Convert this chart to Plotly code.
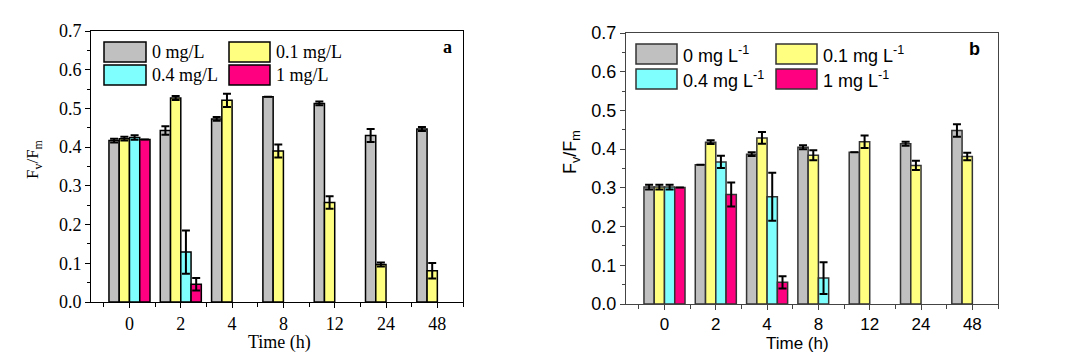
import plotly.graph_objects as go

# ---------------- data ----------------
categories = ["0", "2", "4", "8", "12", "24", "48"]
series_a_names = ["0 mg/L", "0.1 mg/L", "0.4 mg/L", "1 mg/L"]
series_b_names = ["0 mg L<sup>-1</sup>", "0.1 mg L<sup>-1</sup>", "0.4 mg L<sup>-1</sup>", "1 mg L<sup>-1</sup>"]
colors = ["#C0C0C0", "#FFFF80", "#80FFFF", "#FF0080"]

# panel a
a_0 = [0.417, 0.443, 0.473, 0.530, 0.513, 0.430, 0.447]
a_0_err = [0.005, 0.011, 0.005, None, 0.005, 0.017, 0.005]
a_01 = [0.422, 0.527, 0.521, 0.390, 0.257, 0.097, 0.081]
a_01_err = [0.005, 0.005, 0.017, 0.017, 0.016, 0.005, 0.020]
a_04 = [0.425, 0.129, None, None, None, None, None]
a_04_err = [0.006, 0.056, None, None, None, None, None]
a_1 = [0.420, 0.046, None, None, None, None, None]
a_1_err = [None, 0.016, None, None, None, None, None]

# panel b
b_0 = [0.302, 0.360, 0.387, 0.405, 0.392, 0.414, 0.448]
b_0_err = [0.006, None, 0.005, 0.005, None, 0.005, 0.016]
b_01 = [0.302, 0.418, 0.429, 0.384, 0.419, 0.358, 0.381]
b_01_err = [0.006, 0.005, 0.015, 0.013, 0.016, 0.012, 0.010]
b_04 = [0.302, 0.367, 0.277, 0.067, None, None, None]
b_04_err = [0.006, 0.016, 0.062, 0.041, None, None, None]
b_1 = [0.301, 0.283, 0.056, None, None, None, None]
b_1_err = [None, 0.031, 0.016, None, None, None, None]

# figure size (page body has an 8px margin, so the figure is 16px smaller
# than the window and every reference pixel is shifted by OFF)
OFF = 8
W, H = 1064, 344
xpos = list(range(len(categories)))

fig = go.Figure()

SERIF = "Liberation Serif, Times New Roman, serif"
SANS = "Liberation Sans, Arial, sans-serif"


def px(x):
    return (x - OFF) / W


def py(y):
    return 1 - (y - OFF) / H


def add_panel(vals, errs, names, xa, ya, edge):
    for i, (v, e) in enumerate(zip(vals, errs)):
        fig.add_trace(go.Bar(
            x=xpos, y=v, name=names[i], showlegend=False,
            marker=dict(color=colors[i], line=dict(color=edge, width=1.5)),
            error_y=dict(type="data", array=e, visible=True, color="black",
                         thickness=2, width=4),
            offsetgroup=str(i) + xa, xaxis=xa, yaxis=ya,
        ))


add_panel([a_0, a_01, a_04, a_1], [a_0_err, a_01_err, a_04_err, a_1_err],
          series_a_names, "x", "y", "black")
add_panel([b_0, b_01, b_04, b_1], [b_0_err, b_01_err, b_04_err, b_1_err],
          series_b_names, "x2", "y2", "#333333")

# pixel geometry of plot areas (window pixels)
A = dict(l=91, r=463, t=31, b=302)
B = dict(l=626, r=998, t=33, b=304)


def xaxis_def(g, font, lc, size):
    return dict(
        domain=[px(g["l"]), px(g["r"])], range=[-0.75, 6.5], automargin=False,
        tickvals=xpos, ticktext=categories, ticks="outside", ticklen=5,
        tickwidth=1, tickcolor=lc, showline=True, linecolor=lc, linewidth=1,
        mirror=True, showgrid=False, zeroline=False,
        tickfont=dict(family=font, size=size, color="black"),
        minor=dict(tickvals=[k - 0.5 for k in range(len(categories) + 1)],
                   ticks="outside", ticklen=4, tickcolor=lc, showgrid=False),
        fixedrange=True,
    )


def yaxis_def(g, font, lc, anchor, size):
    return dict(
        domain=[py(g["b"]), py(g["t"])], range=[0, 0.7], dtick=0.1,
        tick0=0, tickformat=".1f", ticks="outside", ticklen=5, tickwidth=1,
        tickcolor=lc, showline=True, linecolor=lc, linewidth=1, mirror=True,
        showgrid=False, zeroline=False, anchor=anchor, automargin=False,
        tickfont=dict(family=font, size=size, color="black"),
        minor=dict(dtick=0.05, ticks="outside", ticklen=3, tickcolor=lc, showgrid=False),
        fixedrange=True,
    )


fig.update_layout(
    template="none",
    width=W, height=H, margin=dict(l=0, r=0, t=0, b=0, pad=0, autoexpand=False),
    paper_bgcolor="white", plot_bgcolor="white",
    barmode="group", bargap=0.2, bargroupgap=0,
    showlegend=False,
    xaxis=dict(xaxis_def(A, SERIF, "black", 18), anchor="y"),
    yaxis=yaxis_def(A, SERIF, "black", "x", 18),
    xaxis2=dict(xaxis_def(B, SANS, "#444444", 17), anchor="y2"),
    yaxis2=yaxis_def(B, SANS, "#444444", "x2", 18),
)

shapes = []
annotations = []


def label(x, y, text, font, size, angle=0):
    annotations.append(dict(xref="paper", yref="paper", x=px(x), y=py(y), text=text,
                            showarrow=False, xanchor="center", yanchor="middle",
                            textangle=angle,
                            font=dict(family=font, size=size, color="black")))


def legend(names, font, size, boxes, edge):
    # boxes: list of (x0, x1, y0, y1, text_x) in window pixels
    for name, col, (x0, x1, y0, y1, tx) in zip(names, colors, boxes):
        shapes.append(dict(type="rect", xref="paper", yref="paper",
                           x0=px(x0), x1=px(x1), y0=py(y1), y1=py(y0),
                           fillcolor=col, line=dict(color=edge, width=1.5)))
        annotations.append(dict(xref="paper", yref="paper", x=px(tx),
                                y=py((y0 + y1) / 2), text=name, showarrow=False,
                                xanchor="left", yanchor="middle",
                                font=dict(family=font, size=size, color="black")))


legend(series_a_names, SERIF, 18,
       [(104, 146, 42, 62, 150), (229, 270, 42, 62, 274),
        (104, 146, 65, 85, 150), (229, 270, 65, 85, 274)], "black")
legend(series_b_names, SANS, 18,
       [(636, 677, 44, 64, 681), (776, 817, 44, 64, 821),
        (636, 677, 69, 89, 681), (776, 817, 69, 89, 821)], "#333333")

# panel letters
label(447, 47, "<b>a</b>", SERIF, 18)
label(974, 49, "<b>b</b>", SANS, 18)

# axis titles
label(34, 159, "F<sub>v</sub>/F<sub>m</sub>", SERIF, 17, -90)
label(571, 152, "F<sub>v</sub>/F<sub>m</sub>", SANS, 18, -90)
label(279, 342, "Time (h)", SERIF, 18)
label(797, 343, "Time (h)", SANS, 17)

fig.update_layout(shapes=shapes, annotations=annotations)

fig.write_html("out.html")
